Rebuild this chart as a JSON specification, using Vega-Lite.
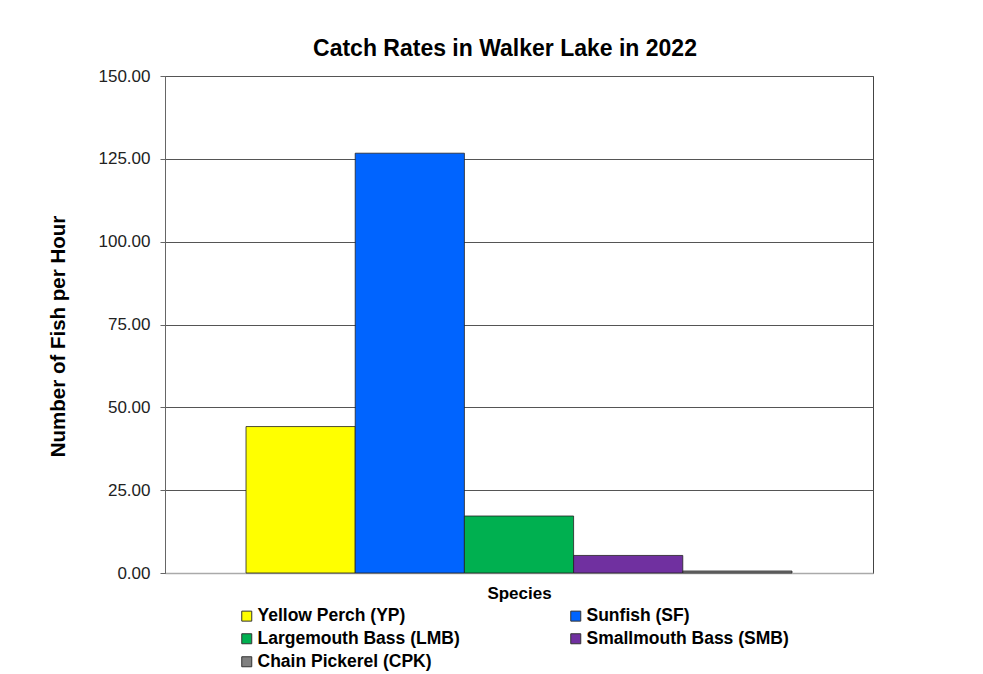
{
  "$schema": "https://vega.github.io/schema/vega-lite/v6.json",
  "width": 708,
  "height": 497,
  "autosize": "none",
  "padding": {"left": 165, "top": 76, "right": 110, "bottom": 101},
  "background": "white",
  "title": {
    "text": "Catch Rates in Walker Lake in 2022",
    "font": "Liberation Sans",
    "fontSize": 23,
    "fontWeight": "bold",
    "color": "#000000",
    "dx": -14,
    "offset": 6
  },
  "config": {
    "view": {"stroke": "#444", "strokeWidth": 1},
    "font": "Liberation Sans"
  },
  "data": {
    "values": [
      {"species": "Yellow Perch (YP)", "rate": 44.2},
      {"species": "Sunfish (SF)", "rate": 126.7},
      {"species": "Largemouth Bass (LMB)", "rate": 17.2},
      {"species": "Smallmouth Bass (SMB)", "rate": 5.3},
      {"species": "Chain Pickerel (CPK)", "rate": 0.6}
    ]
  },
  "mark": {"type": "bar", "stroke": "#222", "strokeWidth": 0.8},
  "encoding": {
    "x": {
      "field": "species",
      "type": "nominal",
      "sort": null,
      "scale": {"paddingInner": 0, "paddingOuter": 0.742},
      "axis": {
        "title": "Species",
        "titleFont": "Liberation Sans",
        "titleFontSize": 17,
        "titleFontWeight": "bold",
        "titleColor": "#000",
        "titlePadding": 12,
        "labels": false,
        "ticks": false,
        "domainColor": "#aaa",
        "domainWidth": 1.5
      }
    },
    "y": {
      "field": "rate",
      "type": "quantitative",
      "scale": {"domain": [0, 150], "nice": false},
      "axis": {
        "title": "Number of Fish per Hour",
        "titleFont": "Liberation Sans",
        "titleFontSize": 20.5,
        "titleFontWeight": "bold",
        "titleColor": "#000",
        "titleX": -107,
        "titleY": 260,
        "titleAngle": -90,
        "titleAlign": "center",
        "titleBaseline": "middle",
        "values": [0, 25, 50, 75, 100, 125, 150],
        "format": ".2f",
        "labelFont": "Liberation Sans",
        "labelFontSize": 17,
        "labelColor": "#222",
        "labelPadding": 10,
        "tickSize": 5,
        "tickColor": "#666",
        "domainColor": "#666",
        "gridColor": "#555",
        "gridWidth": 1
      }
    },
    "color": {
      "field": "species",
      "type": "nominal",
      "scale": {
        "domain": ["Yellow Perch (YP)", "Sunfish (SF)", "Largemouth Bass (LMB)", "Smallmouth Bass (SMB)", "Chain Pickerel (CPK)"],
        "range": ["#FFFF00", "#0064FF", "#00B050", "#7030A0", "#808080"]
      },
      "legend": {
        "title": null,
        "orient": "none",
        "direction": "horizontal",
        "legendX": 73,
        "legendY": 531,
        "columns": 2,
        "columnPadding": 107,
        "rowPadding": 4,
        "symbolType": "square",
        "symbolSize": 100,
        "symbolStrokeColor": "#333",
        "symbolStrokeWidth": 1,
        "labelFont": "Liberation Sans",
        "labelFontSize": 17.5,
        "labelFontWeight": "bold",
        "labelColor": "#000",
        "labelOffset": 2,
        "labelLimit": 400
      }
    }
  }
}
